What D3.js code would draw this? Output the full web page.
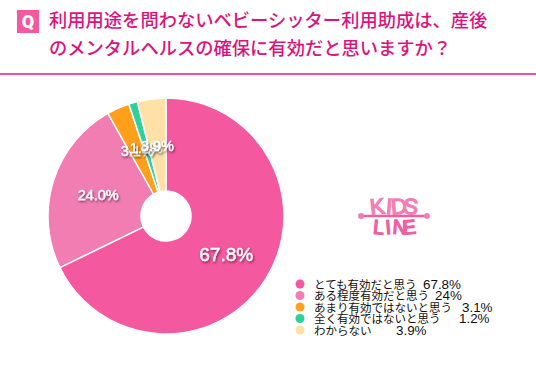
<!DOCTYPE html>
<html>
<head>
<meta charset="utf-8">
<script src="https://cdn.jsdelivr.net/npm/d3@7"></script>
<style>
html, body { margin: 0; padding: 0; background: #fff; }
text { font-family: "Noto Sans CJK JP", sans-serif; }
</style>
</head>
<body>
<div class="container"></div>
<script>
const WIDTH = 536;
const HEIGHT = 381;

const titleLines = ['利用用途を問わないベビーシッター利用助成は、産後', 'のメンタルヘルスの確保に有効だと思いますか？'];
const categories = ['とても有効だと思う', 'ある程度有効だと思う', 'あまり有効ではないと思う', '全く有効ではないと思う', 'わからない'];
const values = [67.8, 24.0, 3.1, 1.2, 3.9];
const sliceLabels = ['67.8%', '24.0%', '3.1%', '1.2%', '3.9%'];
const legendValues = ['67.8%', '24%', '3.1%', '1.2%', '3.9%'];
const legendValueX = [423, 435, 462, 459, 396];
const colors = ['#f4589f', '#f17db3', '#ff9f1c', '#2fd09b', '#ffe0a6'];
const logoTop = ['K', 'I', 'D', 'S'];
const logoBottom = ['L', 'I', 'N', 'E'];
const logoTilt = [-6, 5, -4, 6];

const PIE_X = 166;
const PIE_Y = 216;
const OUTER_R = 118;
const INNER_R = 25;
const LABEL_R = 71;

const svg = d3.select('.container').append('svg')
    .attr('width', WIDTH)
    .attr('height', HEIGHT)
    .style('display', 'block');

const defs = svg.append('defs');
const shadow = defs.append('filter').attr('id', 'labelShadow');
shadow.append('feDropShadow')
    .attr('dx', 1).attr('dy', 1.5).attr('stdDeviation', 1.2)
    .attr('flood-color', '#000').attr('flood-opacity', 0.55);

// header
svg.append('rect')
    .attr('x', 17).attr('y', 10).attr('width', 22).attr('height', 23)
    .attr('fill', '#f4589f');
svg.append('text')
    .attr('x', 28).attr('y', 28)
    .attr('text-anchor', 'middle')
    .attr('font-size', 18)
    .attr('font-weight', 900)
    .attr('fill', '#fff')
    .style('font-family', 'Roboto, sans-serif')
    .text('Q');

svg.selectAll('.title')
    .data(titleLines)
    .enter().append('text')
    .attr('class', 'title')
    .attr('x', 49)
    .attr('y', (d, i) => 27 + i * 28)
    .attr('font-size', 18.3)
    .attr('font-weight', 500)
    .attr('fill', '#d9147e')
    .text(d => d);

svg.append('rect')
    .attr('x', 0).attr('y', 73).attr('width', WIDTH).attr('height', 2)
    .attr('fill', '#f0529a');

// pie
const pie = d3.pie().sort(null).value(d => d);
const arc = d3.arc().innerRadius(INNER_R).outerRadius(OUTER_R);
const labelArc = d3.arc().innerRadius(LABEL_R).outerRadius(LABEL_R);

const g = svg.append('g').attr('transform', `translate(${PIE_X},${PIE_Y})`);
const slices = pie(values);

g.selectAll('path')
    .data(slices)
    .enter().append('path')
    .attr('d', arc)
    .attr('fill', (d, i) => colors[i])
    .attr('stroke', '#fff')
    .attr('stroke-width', 1.5);

g.selectAll('.sliceLabel')
    .data(slices)
    .enter().append('text')
    .attr('class', 'sliceLabel')
    .attr('transform', d => `translate(${labelArc.centroid(d)})`)
    .attr('text-anchor', 'middle')
    .attr('dy', '0.36em')
    .attr('font-size', (d, i) => i === 0 ? 19 : 14.5)
    .attr('fill', '#fff')
    .attr('stroke', '#fff')
    .attr('stroke-width', 0.4)
    .attr('filter', 'url(#labelShadow)')
    .style('font-family', '"Liberation Sans", sans-serif')
    .text((d, i) => sliceLabels[i]);

// logo
const logo = svg.append('g').attr('transform', 'translate(394,216)');
logo.append('path')
    .attr('d', 'M-33,0 H33')
    .attr('stroke', '#ee5fa3')
    .attr('stroke-width', 2.5)
    .attr('fill', 'none');
logo.selectAll('circle')
    .data([-33, 33])
    .enter().append('circle')
    .attr('cx', d => d).attr('cy', 0).attr('r', 3)
    .attr('fill', '#f27fb5');

const logoX = d3.scalePoint().domain(d3.range(4)).range([-16, 16]);
logo.selectAll('.logoTop')
    .data(logoTop)
    .enter().append('text')
    .attr('class', 'logoTop')
    .attr('transform', (d, i) => `translate(${logoX(i)},-2) rotate(${logoTilt[i]})`)
    .attr('text-anchor', 'middle')
    .attr('font-size', 22)
    .attr('fill', '#f27fb5')
    .attr('stroke', '#f27fb5')
    .attr('stroke-width', 1.4)
    .style('font-family', '"Liberation Sans", sans-serif')
    .text(d => d);
logo.selectAll('.logoBottom')
    .data(logoBottom)
    .enter().append('text')
    .attr('class', 'logoBottom')
    .attr('transform', (d, i) => `translate(${logoX(i)},18) rotate(${-logoTilt[i]})`)
    .attr('text-anchor', 'middle')
    .attr('font-size', 20)
    .attr('fill', '#ee5fa3')
    .attr('stroke', '#ee5fa3')
    .attr('stroke-width', 1.4)
    .style('font-family', '"Liberation Sans", sans-serif')
    .text(d => d);

// legend
const legendY = d3.scalePoint()
    .domain(d3.range(categories.length))
    .range([284, 330]);

const legend = svg.append('g');
legend.selectAll('circle')
    .data(categories)
    .enter().append('circle')
    .attr('cx', 300)
    .attr('cy', (d, i) => legendY(i))
    .attr('r', 4.5)
    .attr('fill', (d, i) => colors[i]);
legend.selectAll('.legendName')
    .data(categories)
    .enter().append('text')
    .attr('class', 'legendName')
    .attr('x', 314)
    .attr('y', (d, i) => legendY(i) + 4.5)
    .attr('font-size', 11.5)
    .attr('fill', '#111')
    .text(d => d);
legend.selectAll('.legendValue')
    .data(legendValues)
    .enter().append('text')
    .attr('class', 'legendValue')
    .attr('x', (d, i) => legendValueX[i])
    .attr('y', (d, i) => legendY(i) + 4.5)
    .attr('font-size', 13.4)
    .attr('fill', '#111')
    .style('font-family', '"Liberation Sans", sans-serif')
    .text(d => d);
</script>
</body>
</html>
